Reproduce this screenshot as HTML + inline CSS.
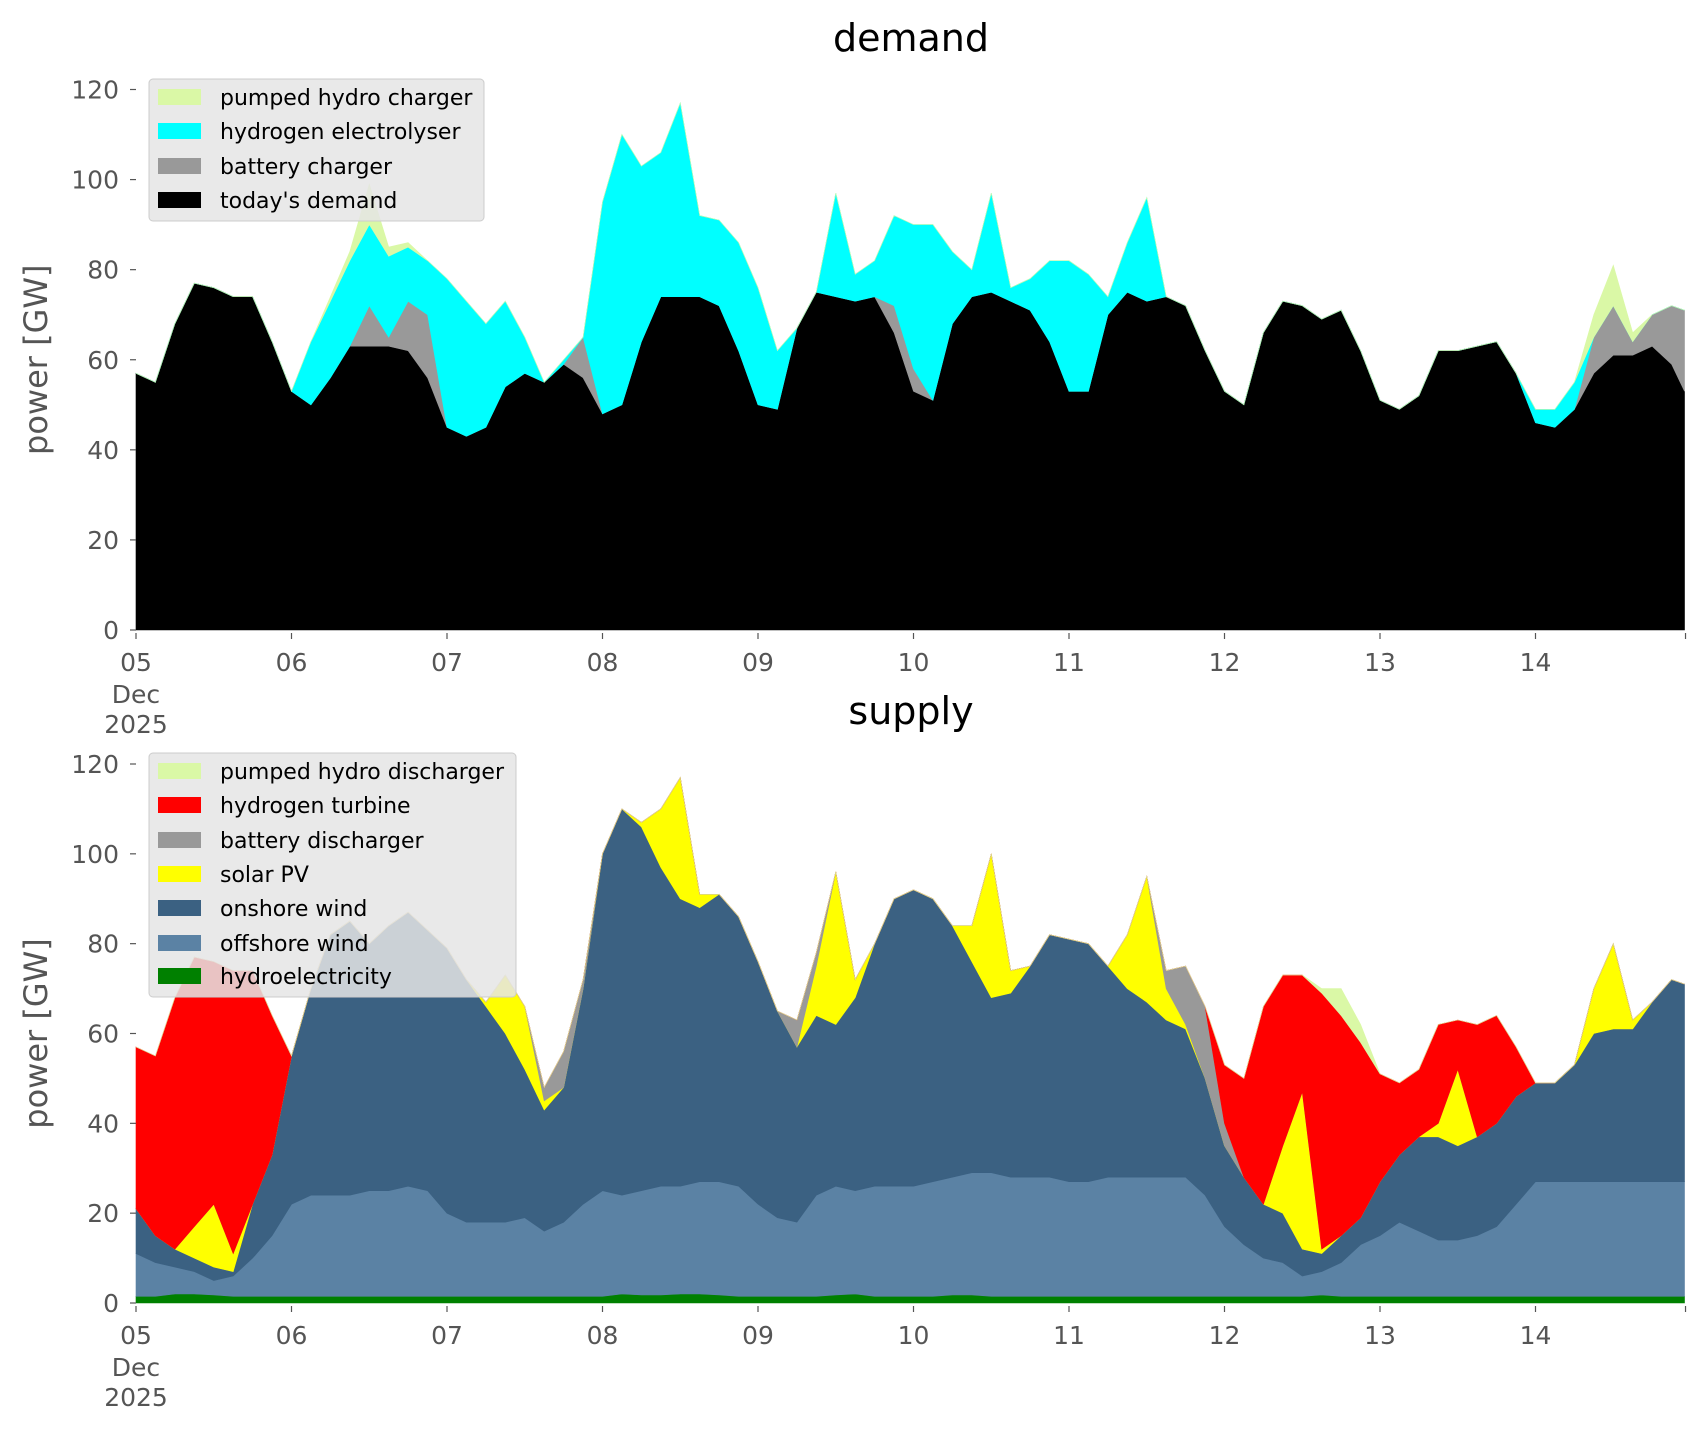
<!DOCTYPE html>
<html><head><meta charset="utf-8">
<style>
html,body{margin:0;padding:0;background:#fff;}
svg{display:block;font-family:"DejaVu Sans","Liberation Sans",sans-serif;}
</style></head>
<body>
<svg id="fig" width="1706" height="1431" viewBox="0 0 1706 1431" xmlns="http://www.w3.org/2000/svg"></svg>
<script>
// ---- data (hours since 05 Dec 2025 00:00) ----
const hours = [];
for (let h = 0; h <= 237; h += 3) hours.push(h);
hours.push(239);
const dayLabels = ["05","06","07","08","09","10","11","12","13","14"];
const yTicks = [0,20,40,60,80,100,120];

// demand panel: cumulative stack tops (GW)
const demandTop = [57,55,68,77,76,74,74,64, 53,50,56,63,63,63,62,56, 45,43,45,54,57,55,59,56, 48,50,64,74,74,74,72,62, 50,49,67,75,74,73,74,66, 53,51,68,74,75,73,71,64, 53,53,70,75,73,74,72,62, 53,50,66,73,72,69,71,62, 51,49,52,62,62,63,64,57, 46,45,49,57,61,61,63,59, 53];
const batteryChargerTop = [57,55,68,77,76,74,74,64, 53,50,56,63,72,65,73,70, 45,43,45,54,57,55,59,65, 48,50,64,74,74,74,72,62, 50,49,67,75,74,73,74,72, 58,51,68,74,75,73,71,64, 53,53,70,75,73,74,72,62, 53,50,66,73,72,69,71,62, 51,49,52,62,62,63,64,57, 46,45,49,65,72,64,70,72, 71];
const electrolyserTop = [57,55,68,77,76,74,74,64, 53,64,73,82,90,83,85,82, 78,73,68,73,65,55,60,65, 95,110,103,106,117,92,91,86, 76,62,62,75,97,79,82,92, 90,90,84,80,97,76,78,82, 82,79,74,86,96,74,72,62, 53,50,66,73,72,69,71,62, 51,49,52,62,62,63,64,57, 49,49,55,65,72,64,70,72, 71];
const pumpedChargerTop = [57,55,68,77,76,74,74,64, 53,64,74,84,99,85,86,82, 78,73,68,73,65,55,60,65, 95,110,103,106,117,92,91,86, 76,62,62,75,97,79,82,92, 90,90,84,80,97,76,78,82, 82,79,74,86,96,74,72,62, 53,50,66,73,72,69,71,62, 51,49,52,62,62,63,64,57, 49,49,55,70,81,66,70,72, 71];

// supply panel: cumulative stack tops (GW)
const hydroTop = [1.5,1.5,2,2,1.8,1.5,1.5,1.5, 1.5,1.5,1.5,1.5,1.5,1.5,1.5,1.5, 1.5,1.5,1.5,1.5,1.5,1.5,1.5,1.5, 1.5,2,1.8,1.8,2,2,1.8,1.5, 1.5,1.5,1.5,1.5,1.8,2,1.5,1.5, 1.5,1.5,1.8,1.8,1.5,1.5,1.5,1.5, 1.5,1.5,1.5,1.5,1.5,1.5,1.5,1.5, 1.5,1.5,1.5,1.5,1.5,1.8,1.5,1.5, 1.5,1.5,1.5,1.5,1.5,1.5,1.5,1.5, 1.5,1.5,1.5,1.5,1.5,1.5,1.5,1.5, 1.5];
const offshoreTop = [11,9,8,7,5,6,10,15, 22,24,24,24,25,25,26,25, 20,18,18,18,19,16,18,22, 25,24,25,26,26,27,27,26, 22,19,18,24,26,25,26,26, 26,27,28,29,29,28,28,28, 27,27,28,28,28,28,28,24, 17,13,10,9,6,7,9,13, 15,18,16,14,14,15,17,22, 27,27,27,27,27,27,27,27, 27];
const onshoreTop = [21,15,12,10,8,7,22,33, 55,70,82,85,80,84,87,83, 79,72,66,60,52,43,48,70, 100,110,106,97,90,88,91,86, 76,65,57,64,62,68,80,90, 92,90,84,76,68,69,75,82, 81,80,75,70,67,63,61,50, 35,28,22,20,12,11,15,19, 27,33,37,37,35,37,40,46, 49,49,53,60,61,61,67,72, 71];
const solarTop = [21,15,12,17,22,11,22,33, 55,70,82,85,80,84,87,83, 79,72,67,73,66,45,48,70, 100,110,107,110,117,91,91,86, 76,65,57,75,96,72,80,90, 92,90,84,84,100,74,75,82, 81,80,75,82,95,70,62,50, 35,28,22,35,47,12,15,19, 27,33,37,40,52,37,40,46, 49,49,53,70,80,63,67,72, 71];
const batteryDischargerTop = [21,15,12,17,22,11,22,33, 55,70,82,85,80,84,87,83, 79,72,67,73,66,48,56,72, 100,110,107,110,117,91,91,86, 76,65,63,78,96,72,80,90, 92,90,84,84,100,74,75,82, 81,80,75,82,95,74,75,66, 40,28,22,35,47,12,15,19, 27,33,37,40,52,37,40,46, 49,49,53,70,80,63,67,72, 71];
const turbineTop = [57,55,68,77,76,74,74,64, 55,70,82,85,80,84,87,83, 79,72,67,73,66,48,56,72, 100,110,107,110,117,91,91,86, 76,65,63,78,96,72,80,90, 92,90,84,84,100,74,75,82, 81,80,75,82,95,74,75,66, 53,50,66,73,73,69,64,58, 51,49,52,62,63,62,64,57, 49,49,53,70,80,63,67,72, 71];
const pumpedDischargerTop = [57,55,68,77,76,74,74,64, 55,70,82,85,80,84,87,83, 79,72,67,73,66,48,56,72, 100,110,107,110,117,91,91,86, 76,65,63,78,96,72,80,90, 92,90,84,84,100,74,75,82, 81,80,75,82,95,74,75,66, 53,50,66,73,73,70,70,62, 51,49,52,62,63,62,64,57, 49,49,53,70,80,63,67,72, 71];

// ---- layout ----
const X0 = 136, PXH = 155.5/24;
function xScale(h){ return X0 + h*PXH; }
const panels = [
  {name:"demand", y0:630, y120:89.5, titleY:51,
   layers:[["todays-demand",null,demandTop,"#000000"],["battery-charger",demandTop,batteryChargerTop,"#999999"],["hydrogen-electrolyser",batteryChargerTop,electrolyserTop,"#00ffff"],["pumped-hydro-charger",electrolyserTop,pumpedChargerTop,"#daf8a6"]],
   legend:{x:149,y:79,w:335,h:142,rows:[["pumped hydro charger","#daf8a6"],["hydrogen electrolyser","#00ffff"],["battery charger","#999999"],["today's demand","#000000"]],rowY:[97,131,166,200]}},
  {name:"supply", y0:1303, y120:764, titleY:724,
   layers:[["hydroelectricity",null,hydroTop,"#008000"],["offshore-wind",hydroTop,offshoreTop,"#5b82a4"],["onshore-wind",offshoreTop,onshoreTop,"#3b6182"],["solar-pv",onshoreTop,solarTop,"#ffff00"],["battery-discharger",solarTop,batteryDischargerTop,"#999999"],["hydrogen-turbine",batteryDischargerTop,turbineTop,"#ff0000"],["pumped-hydro-discharger",turbineTop,pumpedDischargerTop,"#daf8a6"]],
   legend:{x:149,y:753,w:367,h:244,rows:[["pumped hydro discharger","#daf8a6"],["hydrogen turbine","#ff0000"],["battery discharger","#999999"],["solar PV","#ffff00"],["onshore wind","#3b6182"],["offshore wind","#5b82a4"],["hydroelectricity","#008000"]],rowY:[771,805,840,874,908,943,976]}}
];
const NS = "http://www.w3.org/2000/svg";
const svg = document.getElementById("fig");
function mk(tag, attrs, parent){ const e=document.createElementNS(NS,tag); for(const k in attrs) e.setAttribute(k,attrs[k]); (parent||svg).appendChild(e); return e; }

panels.forEach(p => {
  const yS = v => p.y0 - v*(p.y0-p.y120)/120;
  const g = mk("g",{});
  
  
  let prevCum = hours.map(()=>0);
  p.layers.forEach(L => {
    const top = L[2].map((v,i)=>Math.max(v,prevCum[i]));
    let pts = hours.map((h,i)=>xScale(h).toFixed(1)+","+yS(top[i]).toFixed(1));
    for(let i=hours.length-1;i>=0;i--) pts.push(xScale(hours[i]).toFixed(1)+","+yS(prevCum[i]).toFixed(1));
    const poly = mk("polygon",{points:pts.join(" "),fill:L[3],stroke:L[3],"stroke-width":0.6},g);
    
    
    prevCum = top;
  });
  yTicks.forEach(t => {
    const y = yS(t);
    const tk = mk("line",{x1:X0-6,x2:X0,y1:y,y2:y,stroke:"#555","stroke-width":1.2},g);
    
    
    const tx = mk("text",{x:X0-17,y:y+9,"text-anchor":"end","font-size":25,fill:"#555"},g);
    tx.textContent = t;
    
    
  });
  dayLabels.forEach((d,i) => {
    const x = xScale(i*24);
    const tk = mk("line",{x1:x,x2:x,y1:p.y0+3,y2:p.y0+9,stroke:"#555","stroke-width":1.2},g);
    
    
    const tx = mk("text",{x:x,y:p.y0+41,"text-anchor":"middle","font-size":25,fill:"#555"},g);
    tx.textContent = d;
    
    
    if(i===0){
      const t2 = mk("text",{x:x,y:p.y0+73,"text-anchor":"middle","font-size":25,fill:"#555"},g);
      t2.textContent = "Dec";
      
      
      const t3 = mk("text",{x:x,y:p.y0+103,"text-anchor":"middle","font-size":25,fill:"#555"},g);
      t3.textContent = "2025";
      
      
    }
  });
  const endTick = mk("line",{x1:xScale(239)+1,x2:xScale(239)+1,y1:p.y0+3,y2:p.y0+9,stroke:"#555","stroke-width":1.2},g);
  
  
  const title = mk("text",{x:911,y:p.titleY,"text-anchor":"middle","font-size":38,fill:"#000"},g);
  title.textContent = p.name;
  
  
  const ym = (p.y0+p.y120)/2;
  const yl = mk("text",{x:47,y:ym,"text-anchor":"middle","font-size":32,fill:"#555",transform:"rotate(-90 47 "+ym+")"},g);
  yl.textContent = "power [GW]";
  
  
  const lg = mk("g",{},g);
  
  
  mk("rect",{x:p.legend.x,y:p.legend.y,width:p.legend.w,height:p.legend.h,rx:4,fill:"#e5e5e5","fill-opacity":0.85,stroke:"#cccccc","stroke-width":1},lg);
  p.legend.rows.forEach((r,i) => {
    const cy = p.legend.rowY[i];
    const sw = mk("rect",{x:158,y:cy-8,width:43,height:16,fill:r[1]},lg);
    
    
    const t = mk("text",{x:220,y:cy+8,"font-size":22,fill:"#000"},lg);
    t.textContent = r[0];
    
    
  });
});
</script>
</body></html>
